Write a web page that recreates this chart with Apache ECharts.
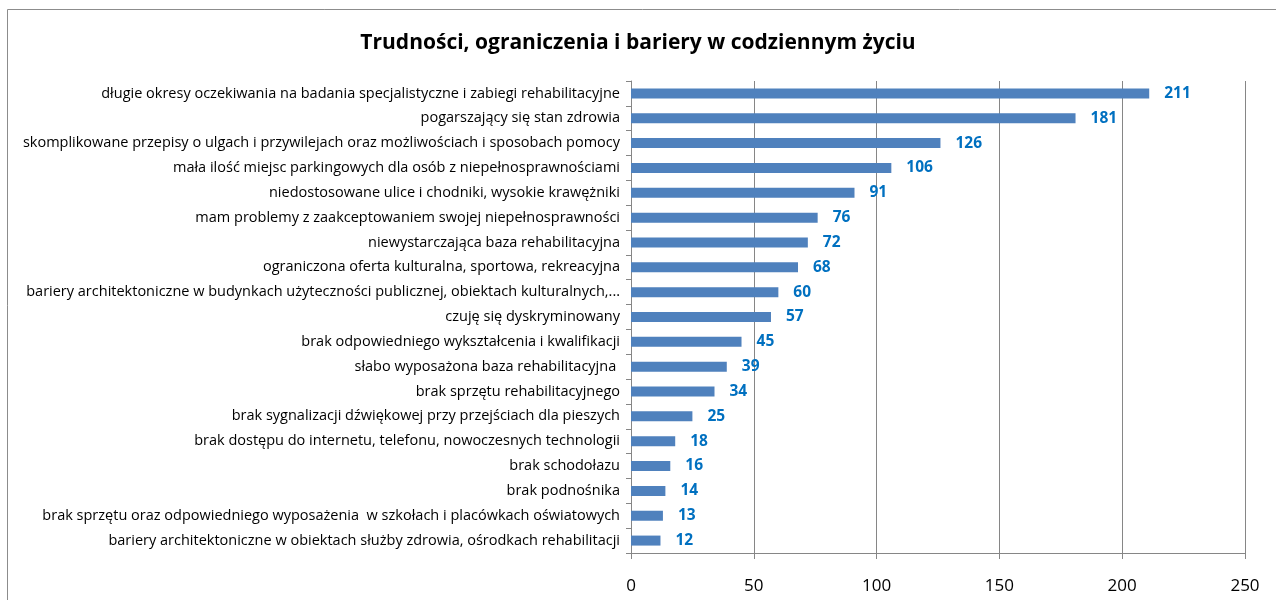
<!DOCTYPE html>
<html>
<head>
<meta charset="utf-8">
<script src="https://cdn.jsdelivr.net/npm/echarts@6/dist/echarts.min.js"></script>
<style>
  html, body { margin: 0; padding: 0; background: #fff; }
  #chart { width: 1276px; height: 600px; }
</style>
</head>
<body>
<div id="chart"></div>
<script>
// Answers (count of respondents) for each difficulty, top to bottom
const categories = [
  'długie okresy oczekiwania na badania specjalistyczne i zabiegi rehabilitacyjne',
  'pogarszający się stan zdrowia',
  'skomplikowane przepisy o ulgach i przywilejach oraz możliwościach i sposobach pomocy',
  'mała ilość miejsc parkingowych dla osób z niepełnosprawnościami',
  'niedostosowane ulice i chodniki, wysokie krawężniki',
  'mam problemy z zaakceptowaniem swojej niepełnosprawności',
  'niewystarczająca baza rehabilitacyjna',
  'ograniczona oferta kulturalna, sportowa, rekreacyjna',
  'bariery architektoniczne w budynkach użyteczności publicznej, obiektach kulturalnych,...',
  'czuję się dyskryminowany',
  'brak odpowiedniego wykształcenia i kwalifikacji',
  'słabo wyposażona baza rehabilitacyjna ',
  'brak sprzętu rehabilitacyjnego',
  'brak sygnalizacji dźwiękowej przy przejściach dla pieszych',
  'brak dostępu do internetu, telefonu, nowoczesnych technologii',
  'brak schodołazu',
  'brak podnośnika',
  'brak sprzętu oraz odpowiedniego wyposażenia  w szkołach i placówkach oświatowych',
  'bariery architektoniczne w obiektach służby zdrowia, ośrodkach rehabilitacji'
];
const counts = [211, 181, 126, 106, 91, 76, 72, 68, 60, 57, 45, 39, 34, 25, 18, 16, 14, 13, 12];
const xTicks = { min: 0, max: 250, step: 50 };
const titleText = 'Trudności, ograniczenia i bariery w codziennym życiu';

const FONT = '"Open Sans", Lato, sans-serif';
const GRAY = '#868686';

const chart = echarts.init(document.getElementById('chart'), null, { renderer: 'canvas' });
chart.setOption({
  backgroundColor: '#ffffff',
  animation: false,
  graphic: [{
    type: 'rect',
    shape: { x: 7.5, y: 9.5, width: 1300, height: 620 },
    style: { fill: 'none', stroke: '#8c8c8c', lineWidth: 1 },
    silent: true
  }],
  title: {
    text: titleText,
    left: 'center',
    top: 28,
    textStyle: { fontFamily: FONT, fontSize: 21, fontWeight: 'bold', color: '#000' }
  },
  grid: { left: 631, right: 31, top: 81, bottom: 47, containLabel: false },
  xAxis: {
    type: 'value',
    min: xTicks.min,
    max: xTicks.max,
    interval: xTicks.step,
    axisLine: { show: true, lineStyle: { color: GRAY } },
    axisTick: { show: true, length: 6, lineStyle: { color: GRAY } },
    splitLine: { show: true, lineStyle: { color: GRAY } },
    axisLabel: { fontFamily: FONT, fontSize: 17, color: '#000', margin: 25 }
  },
  yAxis: {
    type: 'category',
    data: categories,
    inverse: true,
    axisLine: { show: true, lineStyle: { color: GRAY } },
    axisTick: { show: true, length: 5, lineStyle: { color: GRAY } },
    axisLabel: { fontFamily: FONT, fontSize: 14.5, color: '#000', margin: 11 }
  },
  series: [{
    type: 'bar',
    data: counts,
    barWidth: 10,
    itemStyle: { color: '#4F81BD' },
    label: {
      show: true,
      position: 'right',
      distance: 15,
      fontFamily: FONT,
      fontSize: 15.5,
      fontWeight: 'bold',
      color: '#0070C0'
    }
  }]
});
</script>
</body>
</html>
